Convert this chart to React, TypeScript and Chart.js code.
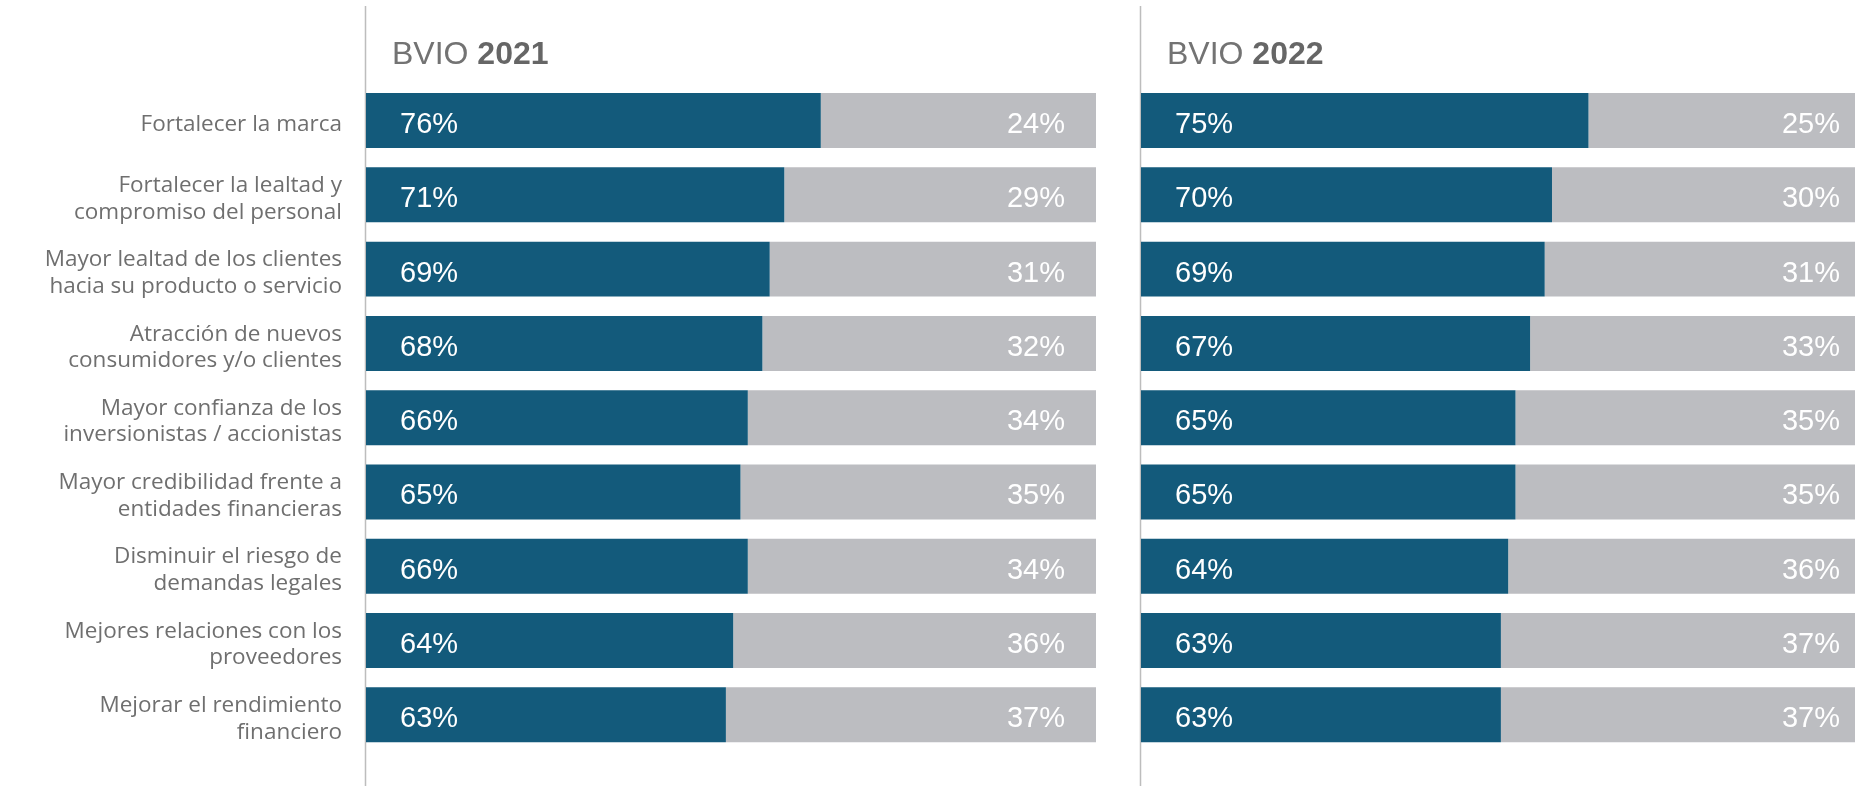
import React, { useEffect, useRef } from "react";
import { Chart, registerables } from "chart.js";

Chart.register(...registerables);

const CATEGORIES: string[][] = [
  ["Fortalecer la marca"],
  ["Fortalecer la lealtad y", "compromiso del personal"],
  ["Mayor lealtad de los clientes", "hacia su producto o servicio"],
  ["Atracción de nuevos", "consumidores y/o clientes"],
  ["Mayor confianza de los", "inversionistas / accionistas"],
  ["Mayor credibilidad frente a", "entidades financieras"],
  ["Disminuir el riesgo de", "demandas legales"],
  ["Mejores relaciones con los", "proveedores"],
  ["Mejorar el rendimiento", "financiero"],
];

const YES_2021 = [76, 71, 69, 68, 66, 65, 66, 64, 63];
const NO_2021 = [24, 29, 31, 32, 34, 35, 34, 36, 37];
const YES_2022 = [75, 70, 69, 67, 65, 65, 64, 63, 63];
const NO_2022 = [25, 30, 31, 33, 35, 35, 36, 37, 37];

const TITLE_PREFIX = "BVIO ";
const YEAR_LEFT = "2021";
const YEAR_RIGHT = "2022";

// scale window of the original design (bars are drawn against this range)
const AXIS_MIN = 13.7;
const AXIS_MAX = 113.7;

const BLUE = "#135a7b";
const GRAY = "#bcbdc1";
const LINE = "#bdbdbd";
const LABEL_COLOR = "#6f6f6f";
const PCT_FONT = "'Liberation Sans', Arial, sans-serif";
const LABEL_FONT = "'Open Sans', 'Noto Sans', sans-serif";

function makeChart(
  canvas: HTMLCanvasElement,
  yes: number[],
  no: number[],
  year: string,
  showLabels: boolean
) {
  const deco = {
    id: "deco" + year,
    beforeDatasetsDraw(chart: any) {
      const { ctx, chartArea } = chart;
      ctx.save();
      ctx.strokeStyle = LINE;
      ctx.lineWidth = 1.5;
      ctx.beginPath();
      ctx.moveTo(chartArea.left - 0.5, 6);
      ctx.lineTo(chartArea.left - 0.5, chart.height);
      ctx.stroke();
      ctx.restore();
    },
    afterDatasetsDraw(chart: any) {
      const { ctx, chartArea } = chart;
      ctx.save();
      // title
      const tx = chartArea.left + 26;
      const ty = 64;
      ctx.textBaseline = "alphabetic";
      ctx.textAlign = "left";
      ctx.font = `32px ${PCT_FONT}`;
      ctx.fillStyle = "#737373";
      ctx.fillText(TITLE_PREFIX, tx, ty);
      const w = ctx.measureText(TITLE_PREFIX).width;
      ctx.font = `bold 32px ${PCT_FONT}`;
      ctx.fillStyle = "#666666";
      ctx.fillText(year, tx + w, ty);
      // value labels
      const meta = chart.getDatasetMeta(0);
      ctx.font = `29px ${PCT_FONT}`;
      ctx.fillStyle = "#ffffff";
      meta.data.forEach((bar: any, i: number) => {
        const y = bar.y + 12.5;
        ctx.textAlign = "left";
        ctx.fillText(yes[i] + "%", chartArea.left + 34, y);
        ctx.textAlign = "right";
        ctx.fillText(no[i] + "%", chartArea.right - 31, y);
      });
      ctx.restore();
    },
  };

  const yScale: any = {
    type: "category",
    display: showLabels,
    grid: { display: false, drawTicks: false },
    border: { display: false },
    ticks: {
      autoSkip: false,
      color: LABEL_COLOR,
      padding: 24,
      labelOffset: 4,
      font: { family: LABEL_FONT, size: 22.5, lineHeight: 1.18 },
    },
  };
  if (showLabels) {
    yScale.afterFit = (scale: any) => {
      scale.width = 366;
      scale.paddingTop = 0;
      scale.paddingBottom = 0;
    };
  }

  return new Chart(canvas, {
    type: "bar",
    data: {
      labels: CATEGORIES,
      datasets: [
        {
          label: "Sí",
          data: yes,
          backgroundColor: BLUE,
          borderWidth: 0,
          grouped: false,
          order: 1,
          barPercentage: 0.74,
          categoryPercentage: 1,
        } as any,
        {
          label: "No",
          data: yes.map((v) => [v, AXIS_MAX]),
          backgroundColor: GRAY,
          borderWidth: 0,
          grouped: false,
          order: 2,
          barPercentage: 0.74,
          categoryPercentage: 1,
        } as any,
      ],
    },
    options: {
      indexAxis: "y",
      responsive: false,
      animation: false,
      devicePixelRatio: 1,
      layout: {
        padding: {
          top: 83.4,
          bottom: 34,
          left: showLabels ? 0 : 41,
          right: showLabels ? 4 : 0,
        },
      },
      scales: {
        x: {
          type: "linear",
          min: AXIS_MIN,
          max: AXIS_MAX,
          display: false,
        },
        y: yScale,
      },
      plugins: {
        legend: { display: false },
        tooltip: { enabled: false },
        title: { display: false },
      },
    } as any,
    plugins: [deco],
  });
}

export default function App() {
  const leftRef = useRef<HTMLCanvasElement>(null);
  const rightRef = useRef<HTMLCanvasElement>(null);

  useEffect(() => {
    const c1 = makeChart(leftRef.current!, YES_2021, NO_2021, YEAR_LEFT, true);
    const c2 = makeChart(rightRef.current!, YES_2022, NO_2022, YEAR_RIGHT, false);
    return () => {
      c1.destroy();
      c2.destroy();
    };
  }, []);

  return (
    <div
      style={{
        position: "fixed",
        left: 0,
        top: 0,
        width: "1855px",
        height: "786px",
        overflow: "hidden",
        background: "#ffffff",
      }}
    >
      <canvas
        ref={leftRef}
        width={1100}
        height={786}
        style={{ position: "absolute", left: 0, top: 0, width: "1100px", height: "786px" }}
      />
      <canvas
        ref={rightRef}
        width={771}
        height={786}
        style={{ position: "absolute", left: "1100px", top: 0, width: "771px", height: "786px" }}
      />
    </div>
  );
}
